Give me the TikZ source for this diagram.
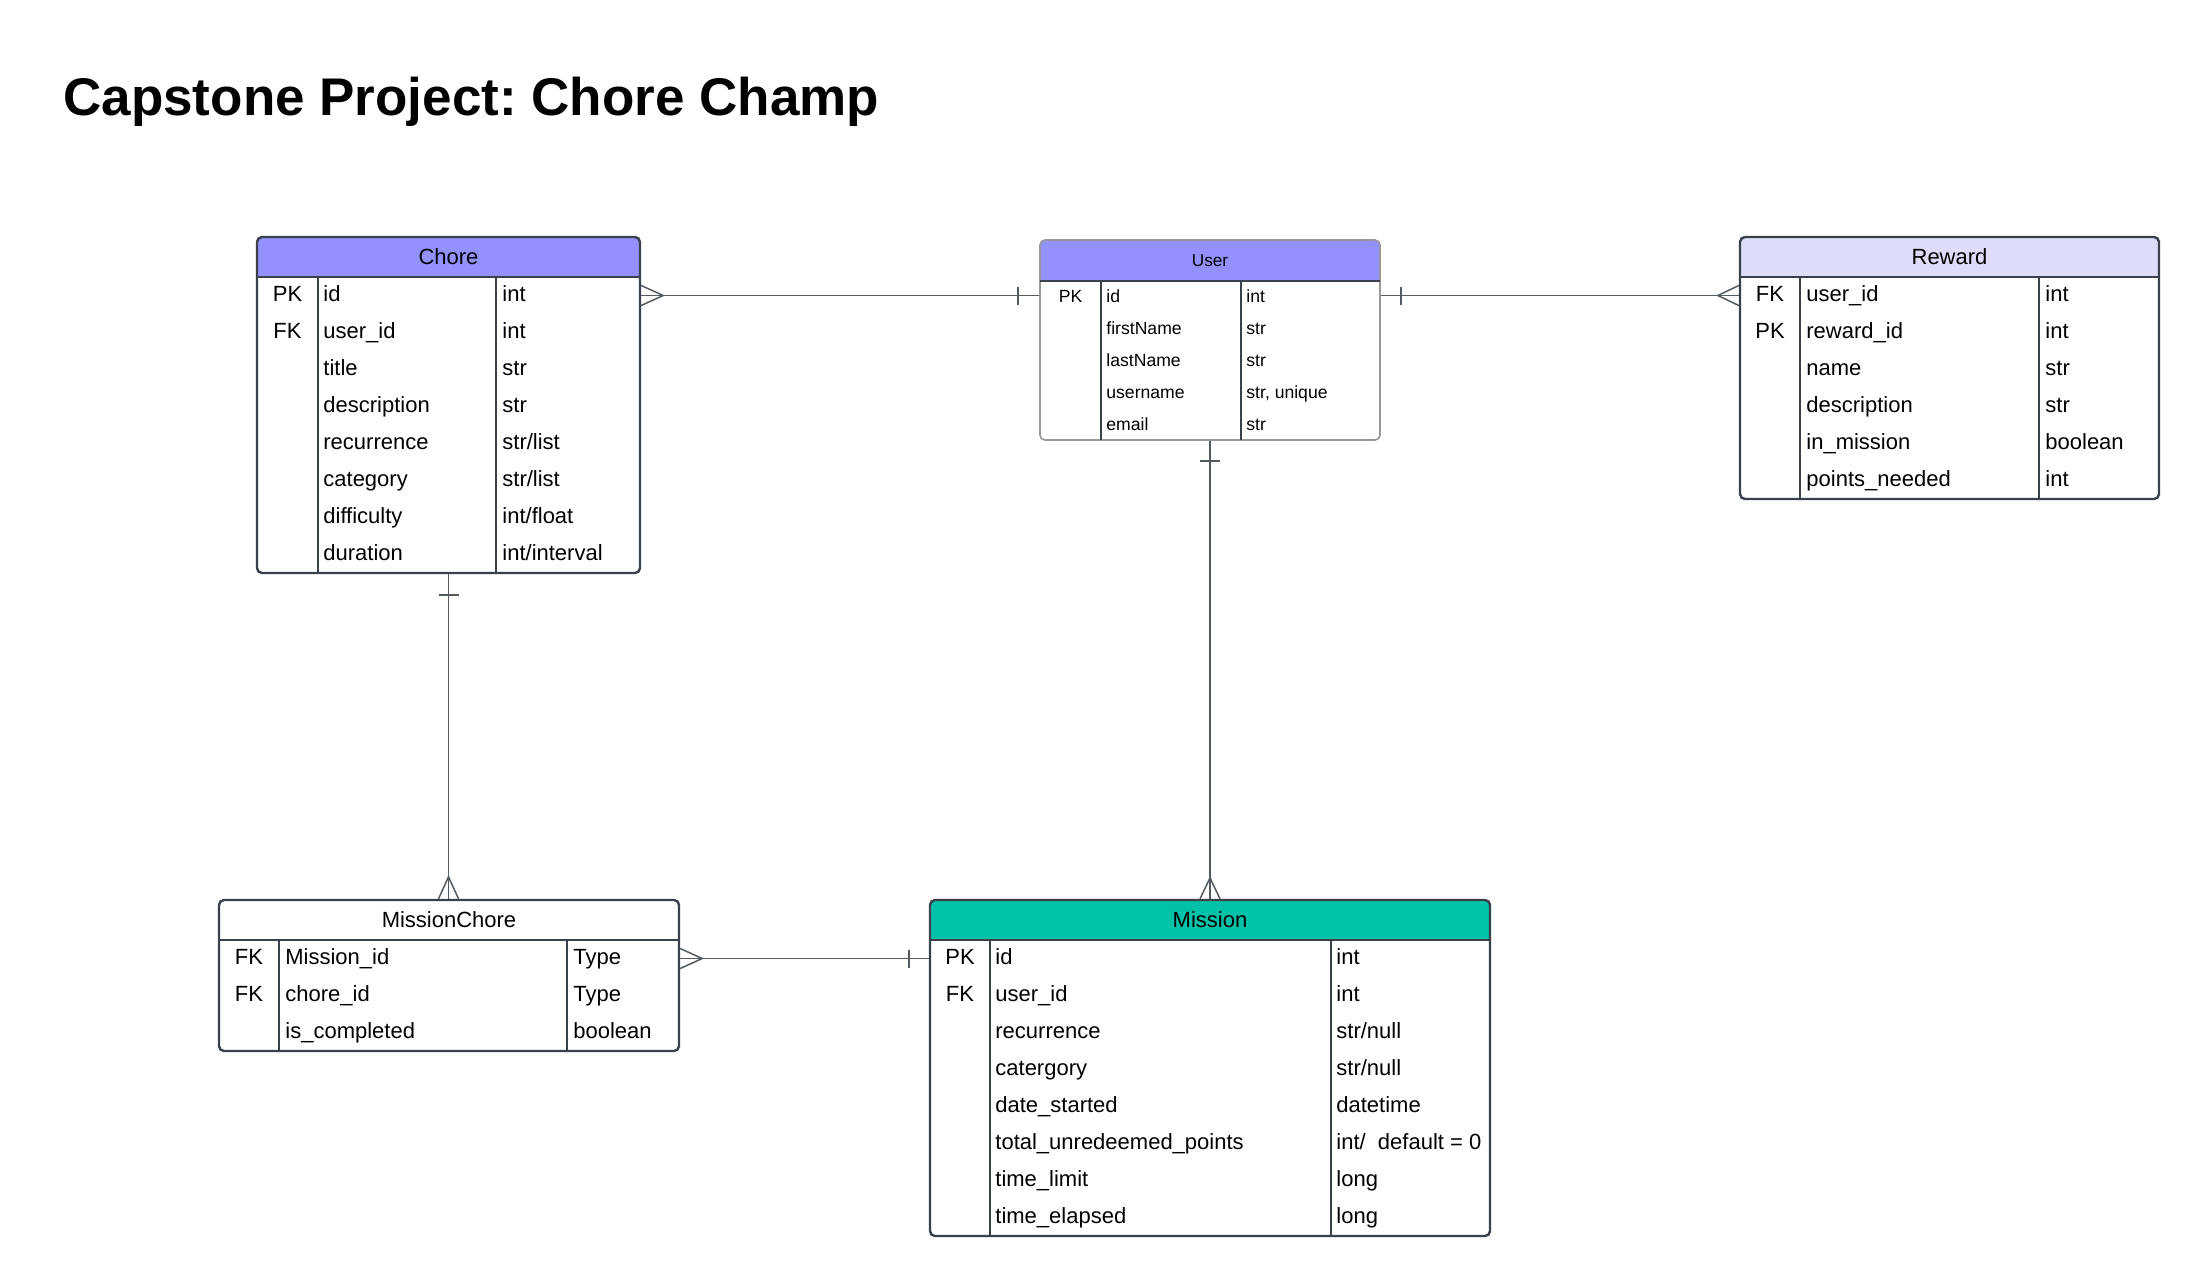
\documentclass[tikz,border=0pt]{standalone}
\usepackage{fontspec}
\setmainfont{Liberation Sans}
\usetikzlibrary{positioning, calc, fit}

\definecolor{hdrblue}{RGB}{146,145,255}
\definecolor{hdrpale}{RGB}{221,221,250}
\definecolor{hdrteal}{RGB}{0,194,168}
\definecolor{rim}{RGB}{58,65,74}
\definecolor{rimlight}{RGB}{150,152,156}
\definecolor{wire}{RGB}{84,90,98}

\begin{document}
\begin{tikzpicture}[x=0.5pt, y=-0.5pt,
      tabel/.style={draw=rim, line width=1.2pt, rounded corners=2.5pt, inner sep=0pt, fit=#1},
      sekat/.style={draw=rim, line width=1.1pt},
      kepala/.style={inner sep=0pt, font=\fontsize{11pt}{13pt}\selectfont},
      teks/.style={inner sep=0pt, text height=7.9pt, text depth=1.6pt, font=\fontsize{11pt}{13pt}\selectfont},
      kecil/.style={text height=6.3pt, text depth=1.3pt, font=\fontsize{8.8pt}{10pt}\selectfont},
      garis/.style={draw=wire, line width=0.75pt}]

      \path[fill=white] (0,0) rectangle (2200,1276);
      \useasboundingbox (0,0) rectangle (2200,1276);

      % judul
      \node[anchor=base west, inner sep=0pt, font=\fontsize{26.5pt}{30pt}\selectfont\bfseries] (judul) at (63,115) {\frenchspacing Capstone Project: Chore Champ};

      % tabel Chore (kiri atas)
      \begin{scope}
        \clip[rounded corners=2.5pt] (257,237) rectangle (640,573);
        \fill[hdrblue] (257,237) rectangle (640,277);
      \end{scope}
      \coordinate (chore-nw) at (257,237);
      \coordinate (chore-se) at (640,573);
      \node[tabel=(chore-nw)(chore-se)] (chore) {};
      \node[kepala] (chore-h) at (448.5,257) {Chore};
      \draw[sekat] (257,277) -- (640,277);
      \draw[sekat] (318,277) -- (318,573);
      \draw[sekat] (496,277) -- (496,573);
      \foreach \k/\n/\t [count=\i] in {PK/id/int, FK/user\_id/int, /title/str, /description/str,
          /recurrence/{str/list}, /category/{str/list}, /difficulty/{int/float}, /duration/{int/interval}}
        {
        \node[teks] (chore-k\i) at (287.5,258.5+37*\i) {\k};
        \node[teks, anchor=west] (chore-n\i) at (323,258.5+37*\i) {\n};
        \node[teks, anchor=west] (chore-t\i) at (502,258.5+37*\i) {\t};
        }

      % tabel User (tengah atas)
      \begin{scope}
        \clip[rounded corners=2.5pt] (1040,240) rectangle (1380,440);
        \fill[hdrblue] (1040,240) rectangle (1380,281);
      \end{scope}
      \coordinate (user-nw) at (1040,240);
      \coordinate (user-se) at (1380,440);
      \node[tabel=(user-nw)(user-se), draw=rimlight, line width=0.8pt] (user) {};
      \node[kepala, font=\fontsize{8.6pt}{10pt}\selectfont] (user-h) at (1210,260.5) {User};
      \draw[sekat, line width=0.8pt] (1040,281) -- (1380,281);
      \draw[sekat, line width=0.8pt] (1101,281) -- (1101,440);
      \draw[sekat, line width=0.8pt] (1241,281) -- (1241,440);
      \foreach \k/\n/\t [count=\i] in {PK/id/int, /firstName/str, /lastName/str, /username/{str, unique}, /email/str}
        {
        \node[teks, kecil] (user-k\i) at (1070.5,265+32*\i) {\k};
        \node[teks, kecil, anchor=west] (user-n\i) at (1106,265+32*\i) {\n};
        \node[teks, kecil, anchor=west] (user-t\i) at (1246,265+32*\i) {\t};
        }

      % tabel Reward (kanan atas)
      \begin{scope}
        \clip[rounded corners=2.5pt] (1740,237) rectangle (2159,499);
        \fill[hdrpale] (1740,237) rectangle (2159,277);
      \end{scope}
      \coordinate (reward-nw) at (1740,237);
      \coordinate (reward-se) at (2159,499);
      \node[tabel=(reward-nw)(reward-se)] (reward) {};
      \node[kepala] (reward-h) at (1949.5,257) {Reward};
      \draw[sekat] (1740,277) -- (2159,277);
      \draw[sekat] (1800,277) -- (1800,499);
      \draw[sekat] (2039,277) -- (2039,499);
      \foreach \k/\n/\t [count=\i] in {FK/user\_id/int, PK/reward\_id/int, /name/str, /description/str,
          /in\_mission/boolean, /points\_needed/int}
        {
        \node[teks] (reward-k\i) at (1770,258.5+37*\i) {\k};
        \node[teks, anchor=west] (reward-n\i) at (1806,258.5+37*\i) {\n};
        \node[teks, anchor=west] (reward-t\i) at (2045,258.5+37*\i) {\t};
        }

      % tabel MissionChore (kiri bawah)
      \coordinate (mchore-nw) at (219,900);
      \coordinate (mchore-se) at (679,1051);
      \node[tabel=(mchore-nw)(mchore-se)] (mchore) {};
      \node[kepala] (mchore-h) at (449,920) {MissionChore};
      \draw[sekat] (219,940) -- (679,940);
      \draw[sekat] (279,940) -- (279,1051);
      \draw[sekat] (567,940) -- (567,1051);
      \foreach \k/\n/\t [count=\i] in {FK/Mission\_id/Type, FK/chore\_id/Type, /is\_completed/boolean}
        {
        \node[teks] (mchore-k\i) at (249,921.5+37*\i) {\k};
        \node[teks, anchor=west] (mchore-n\i) at (285,921.5+37*\i) {\n};
        \node[teks, anchor=west] (mchore-t\i) at (573,921.5+37*\i) {\t};
        }

      % tabel Mission (tengah bawah)
      \begin{scope}
        \clip[rounded corners=2.5pt] (930,900) rectangle (1490,1236);
        \fill[hdrteal] (930,900) rectangle (1490,940);
      \end{scope}
      \coordinate (mission-nw) at (930,900);
      \coordinate (mission-se) at (1490,1236);
      \node[tabel=(mission-nw)(mission-se)] (mission) {};
      \node[kepala] (mission-h) at (1210,920) {Mission};
      \draw[sekat] (930,940) -- (1490,940);
      \draw[sekat] (990,940) -- (990,1236);
      \draw[sekat] (1331,940) -- (1331,1236);
      \foreach \k/\n/\t [count=\i] in {PK/id/int, FK/user\_id/int, /recurrence/{str/null}, /catergory/{str/null},
          /date\_started/datetime, /total\_unredeemed\_points/{int/\ \ default = 0}, /time\_limit/long, /time\_elapsed/long}
        {
        \node[teks] (mission-k\i) at (960,921.5+37*\i) {\k};
        \node[teks, anchor=west] (mission-n\i) at (995,921.5+37*\i) {\n};
        \node[teks, anchor=west] (mission-t\i) at (1336,921.5+37*\i) {\t};
        }

      % relasi Chore -- User (banyak ke satu)
      \coordinate (cu-a) at (chore.east |- chore-k1);
      \coordinate (cu-b) at (user.west |- chore-k1);
      \draw[garis] (cu-a) -- (cu-b);
      \draw[garis] (cu-a) ++(0,-10) -- ++(22,10) -- ++(-22,10);
      \draw[garis] ($(cu-b)+(-21,-9)$) -- ++(0,18);

      % relasi User -- Reward
      \coordinate (ur-a) at (user.east |- reward-k1);
      \coordinate (ur-b) at (reward.west |- reward-k1);
      \draw[garis] (ur-a) -- (ur-b);
      \draw[garis] ($(ur-a)+(20,-9)$) -- ++(0,18);
      \draw[garis] (ur-b) ++(0,-10) -- ++(-21,10) -- ++(21,10);

      % relasi Chore -- MissionChore
      \coordinate (cm-a) at (chore.south);
      \coordinate (cm-b) at (mchore.north -| chore.south);
      \draw[garis] (cm-a) -- (cm-b);
      \draw[garis] ($(cm-a)+(-10,21)$) -- ++(20,0);
      \draw[garis] (cm-b) ++(-10,0) -- ++(10,-22) -- ++(10,22);

      % relasi User -- Mission
      \coordinate (um-a) at (user.south);
      \coordinate (um-b) at (mission.north -| user.south);
      \draw[garis] (um-a) -- (um-b);
      \draw[garis] ($(um-a)+(-10,20)$) -- ++(20,0);
      \draw[garis] (um-b) ++(-10,0) -- ++(10,-21) -- ++(10,21);

      % relasi MissionChore -- Mission
      \coordinate (mm-a) at (mchore.east |- mchore-k1);
      \coordinate (mm-b) at (mission.west |- mchore-k1);
      \draw[garis] (mm-a) -- (mm-b);
      \draw[garis] (mm-a) ++(0,-10) -- ++(22,10) -- ++(-22,10);
      \draw[garis] ($(mm-b)+(-20,-9)$) -- ++(0,18);
    \end{tikzpicture}
\end{document}
